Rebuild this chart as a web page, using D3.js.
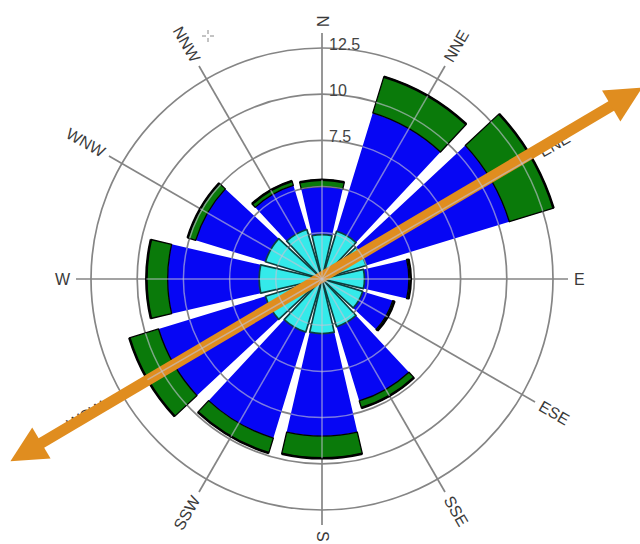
<!DOCTYPE html>
<html><head><meta charset="utf-8">
<script src="https://cdn.jsdelivr.net/npm/d3@7"></script>
<style>html,body{margin:0;padding:0;background:#fff;} svg{display:block;}</style>
</head><body>
<svg id="chart" width="640" height="544"></svg>
<script>
// ---- data ----
const directions = ["N","NNE","ENE","E","ESE","SSE","S","SSW","WSW","W","WNW","NNW"];
const bearings   = [0, 30, 60, 90, 120, 150, 180, 210, 240, 270, 300, 330];
const cyanValues  = [2.4, 2.7, 2.5, 2.3, 2.3, 2.7, 2.95, 3.0, 3.2, 3.4, 3.2, 2.8];
const blueValues  = [2.6, 6.7, 8.1, 2.4, 1.7, 4.2, 5.55, 6.0, 6.05, 4.95, 3.95, 2.5];
const greenValues = [0.37, 2.05, 2.5, 0.1, 0.1, 0.4, 1.2, 0.85, 1.65, 1.15, 0.45, 0.25];
const ringTicks = [2.5, 5, 7.5, 10, 12.5];
const labeledTicks = [7.5, 10, 12.5];
const tickLabels = ["7.5", "10", "12.5"];
const arrowBearing = 59.4;

// ---- layout ----
const cx = 322, cy = 279;
const rScale = d3.scaleLinear().domain([0, 12.5]).range([0, 231]);
const spokeLen = 246, labelR = 252, halfWidth = 13;
const rad = d => d * Math.PI / 180;

const svg = d3.select("#chart");
const g = svg.append("g").attr("transform", `translate(${cx},${cy})`);

const seriesDefs = [
  {key: "cyan",  values: cyanValues,  fill: "#34eaea", stroke: "#0c3f3f", sw: 1.7},
  {key: "blue",  values: blueValues,  fill: "#0606f4", stroke: "none",    sw: 0},
  {key: "green", values: greenValues, fill: "#0a7a0a", stroke: "#000",    sw: 1.3}
];
const segs = [];
const totals = [];
directions.forEach((d, i) => {
  let acc = 0;
  seriesDefs.forEach(s => {
    const v0 = acc; acc += s.values[i];
    segs.push({dir: d, b: bearings[i], v0, v1: acc, s});
  });
  totals.push({dir: d, b: bearings[i], v: acc});
});
const arc = d3.arc()
  .innerRadius(d => rScale(d.v0))
  .outerRadius(d => rScale(d.v1))
  .startAngle(d => rad(d.b - halfWidth))
  .endAngle(d => rad(d.b + halfWidth));

function drawGrid(sel, color, width, opacity) {
  sel.selectAll("circle.ring").data(ringTicks).join("circle")
    .attr("class", "ring").attr("r", d => rScale(d))
    .attr("fill", "none").attr("stroke", color).attr("stroke-width", width).attr("stroke-opacity", opacity);
  sel.selectAll("line.spoke").data(bearings).join("line")
    .attr("class", "spoke")
    .attr("x1", 0).attr("y1", 0)
    .attr("x2", d => spokeLen * Math.sin(rad(d)))
    .attr("y2", d => -spokeLen * Math.cos(rad(d)))
    .attr("stroke", color).attr("stroke-width", width).attr("stroke-opacity", opacity);
}

// under grid
drawGrid(g.append("g"), "#858585", 1.7, 1);

// tick labels
g.append("g").selectAll("text").data(labeledTicks).join("text")
  .attr("x", 7).attr("y", d => -rScale(d) + 2)
  .attr("font-family", "Liberation Sans, Arial, sans-serif").attr("font-size", 16)
  .attr("fill", "#444").text((d, i) => tickLabels[i]);

// bars (blue/green first, cyan on top so its dark edges show)
const order = ["blue", "green", "cyan"];
g.append("g").selectAll("path")
  .data(segs.slice().sort((a, b) => order.indexOf(a.s.key) - order.indexOf(b.s.key)))
  .join("path")
  .attr("d", arc).attr("fill", d => d.s.fill)
  .attr("stroke", d => d.s.stroke).attr("stroke-width", d => d.s.sw)
  .attr("stroke-linejoin", "round");

// clip for overlay grid
const clip = svg.append("defs").append("clipPath").attr("id", "barClip");
clip.selectAll("path").data(totals).join("path")
  .attr("transform", `translate(${cx},${cy})`)
  .attr("d", d => arc({b: d.b, v0: 0, v1: d.v}));
const overlay = svg.append("g").attr("clip-path", "url(#barClip)")
  .append("g").attr("transform", `translate(${cx},${cy})`);
drawGrid(overlay, "#c4c4d4", 1.5, 0.62);

// outer edges
const outerArc = d3.arc()
  .innerRadius(d => rScale(d.v)).outerRadius(d => rScale(d.v))
  .startAngle(d => rad(d.b - halfWidth)).endAngle(d => rad(d.b + halfWidth));
g.append("g").selectAll("path").data(totals).join("path")
  .attr("d", outerArc).attr("fill", "none").attr("stroke", "#000").attr("stroke-width", 2.6);

// direction labels
g.append("g").selectAll("text").data(directions).join("text")
  .each(function(d, i) {
    const b = bearings[i];
    let rot = b - 90;
    while (rot > 90) rot -= 180;
    while (rot <= -90) rot += 180;
    const ux = Math.sin(rad(b)), uy = -Math.cos(rad(b));
    const tx = Math.cos(rad(rot)), ty = Math.sin(rad(rot));
    const outward = ux * tx + uy * ty > 0;
    d3.select(this)
      .attr("transform", `translate(${labelR * ux},${labelR * uy}) rotate(${rot})`)
      .attr("text-anchor", outward ? "start" : "end")
      .attr("dominant-baseline", "central");
  })
  .attr("font-family", "Liberation Sans, Arial, sans-serif").attr("font-size", 16)
  .attr("fill", "#3a3a3a").text(d => d);

// orange arrow (prevailing axis)
const ux = Math.sin(rad(arrowBearing)), uy = -Math.cos(rad(arrowBearing));
const px = -uy, py = ux;
const tipA = [372 * ux, 372 * uy - 2], tipB = [-362 * ux, -362 * uy - 2];
const headLen = 36, headHalf = 18;
const arrowColor = "#e08d1f";
const ag = g.append("g");
ag.append("line")
  .attr("x1", tipB[0] + ux * headLen * 0.7).attr("y1", tipB[1] + uy * headLen * 0.7)
  .attr("x2", tipA[0] - ux * headLen * 0.7).attr("y2", tipA[1] - uy * headLen * 0.7)
  .attr("stroke", arrowColor).attr("stroke-width", 11);
function head(tip, dir) {
  const bx = tip[0] - dir * ux * headLen, by = tip[1] - dir * uy * headLen;
  return [tip, [bx + px * headHalf, by + py * headHalf], [bx - px * headHalf, by - py * headHalf]];
}
ag.selectAll("path").data([head(tipA, 1), head(tipB, -1)]).join("path")
  .attr("d", d => "M" + d.map(p => p.join(",")).join("L") + "Z")
  .attr("fill", arrowColor);

// small cursor crosshair
const ch = svg.append("g").attr("transform", "translate(208,36)").attr("stroke", "#888").attr("stroke-width", 1);
[[-6,0,-2,0],[2,0,6,0],[0,-6,0,-2],[0,2,0,6]].forEach(s =>
  ch.append("line").attr("x1", s[0]).attr("y1", s[1]).attr("x2", s[2]).attr("y2", s[3]));
</script>
</body></html>
